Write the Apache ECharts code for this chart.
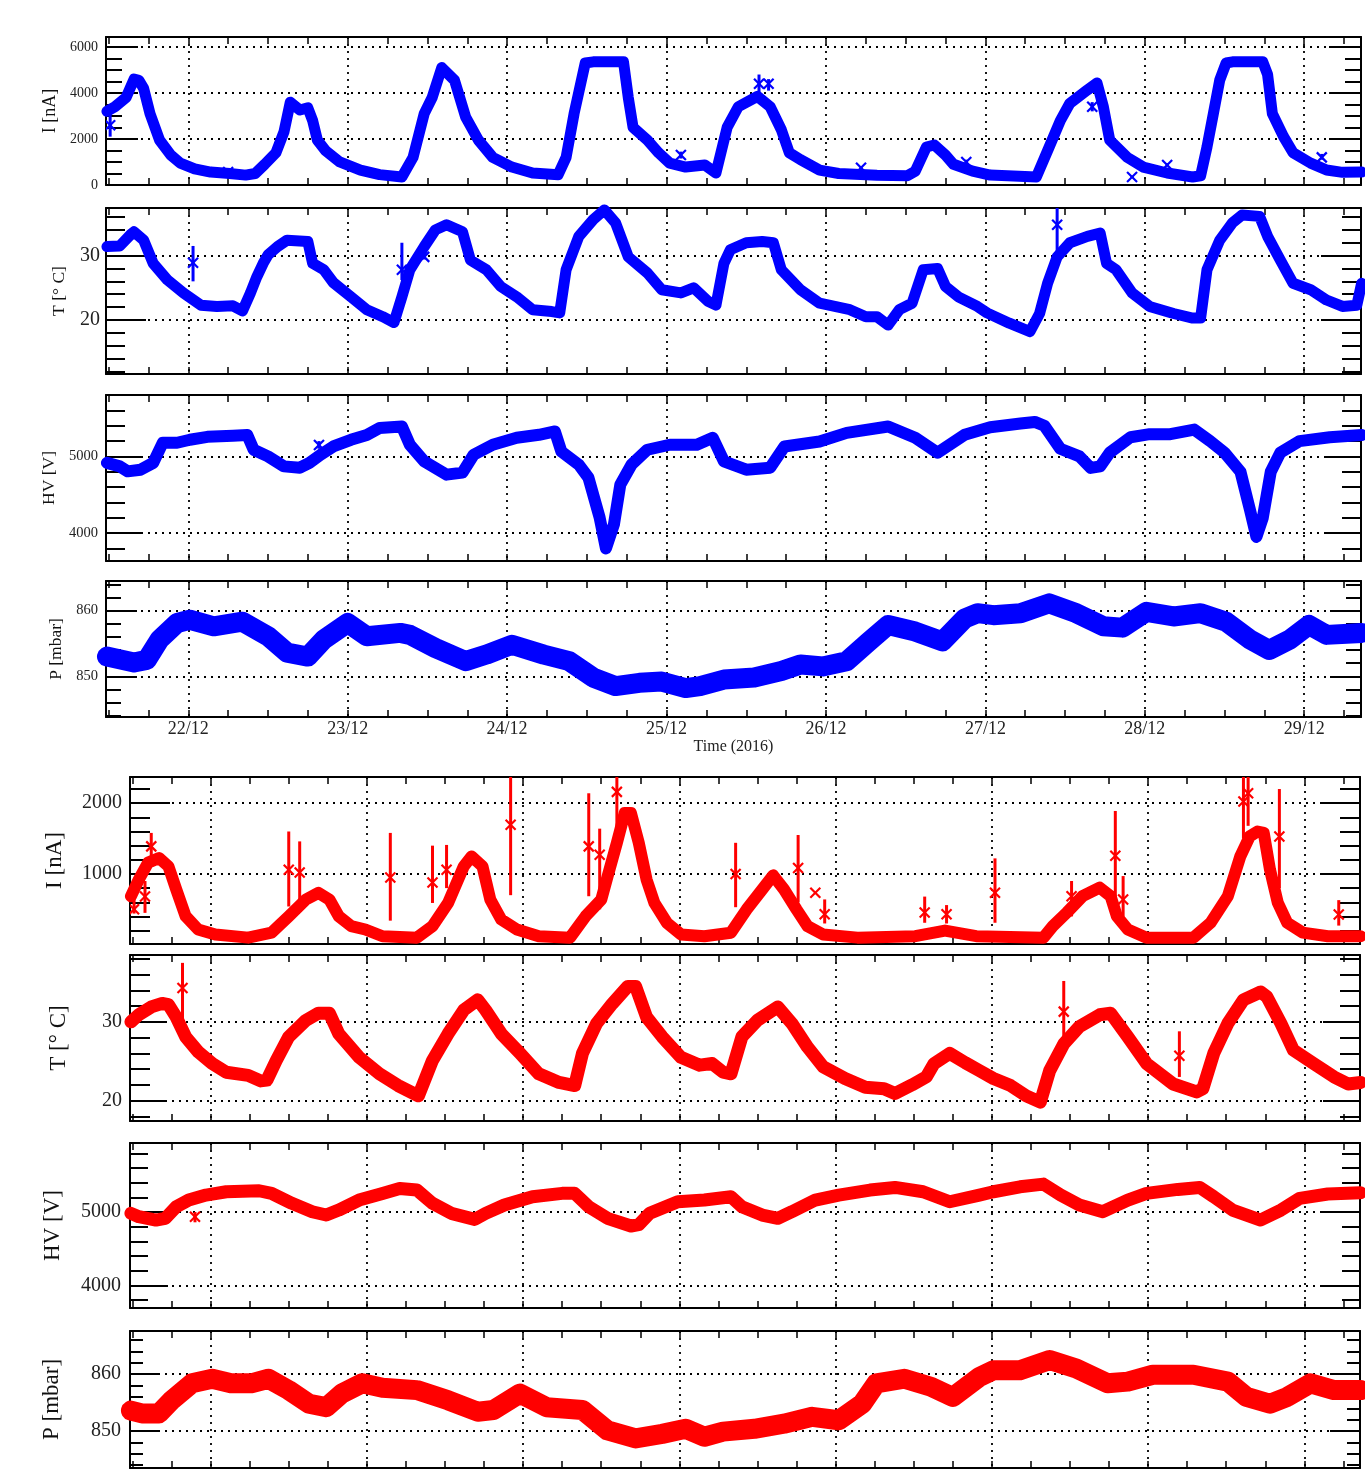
<!DOCTYPE html>
<html><head><meta charset="utf-8">
<script src="https://cdn.jsdelivr.net/npm/echarts@6/dist/echarts.min.js"></script>
<style>html,body{margin:0;padding:0;background:#fff}#c{width:1365px;height:1471px}</style>
</head><body><div id="c"></div>
<script>
// ---------- DATA (time in days of December 2016) ----------
const dayTicks = [22, 23, 24, 25, 26, 27, 28, 29];
const timeMin = 21.484, timeMax = 29.356;

const blueCurrent = [[21.49,3200],[21.54,3400],[21.61,3800],[21.66,4600],[21.69,4550],[21.72,4200],[21.76,3100],[21.82,1950],[21.89,1300],[21.95,950],[22.04,700],[22.14,560],[22.26,500],[22.36,430],[22.42,500],[22.48,900],[22.55,1400],[22.60,2300],[22.64,3600],[22.70,3260],[22.75,3350],[22.78,2800],[22.81,1950],[22.86,1500],[22.95,1000],[23.08,650],[23.20,450],[23.34,350],[23.41,1200],[23.48,3100],[23.53,3800],[23.59,5100],[23.67,4550],[23.74,2950],[23.82,1950],[23.91,1200],[24.03,780],[24.16,520],[24.32,450],[24.37,1200],[24.42,3100],[24.49,5300],[24.54,5350],[24.73,5350],[24.76,3800],[24.79,2500],[24.88,1950],[24.95,1400],[25.02,950],[25.12,780],[25.24,870],[25.31,520],[25.38,2500],[25.45,3400],[25.57,3850],[25.65,3400],[25.72,2400],[25.77,1400],[25.84,1100],[25.96,650],[26.08,500],[26.32,420],[26.51,400],[26.56,600],[26.63,1650],[26.68,1740],[26.75,1300],[26.80,900],[26.92,600],[27.03,430],[27.32,350],[27.40,1650],[27.47,2800],[27.53,3550],[27.64,4130],[27.70,4430],[27.74,3400],[27.78,1950],[27.89,1200],[27.99,780],[28.14,520],[28.30,350],[28.35,400],[28.39,1650],[28.43,3100],[28.47,4560],[28.51,5300],[28.55,5350],[28.74,5350],[28.77,4800],[28.80,3100],[28.87,2100],[28.93,1400],[29.04,950],[29.14,650],[29.24,550],[29.36,560]];
const blueCurrentOutliers = [[21.51,2600,2100,3100],[22.25,560,500,620],[25.09,1300,1150,1450],[25.58,4400,4000,4800],[25.64,4400,4100,4600],[26.22,750,700,800],[26.88,1000,900,1100],[27.67,3400,3200,3600],[27.92,350,300,400],[28.14,870,800,950],[29.11,1200,1100,1350]];

const blueTemp = [[21.49,31.4],[21.57,31.5],[21.64,33.3],[21.66,33.7],[21.72,32.4],[21.78,28.8],[21.87,26.2],[21.97,24.2],[22.08,22.3],[22.18,22.1],[22.28,22.2],[22.34,21.4],[22.39,24.2],[22.43,26.7],[22.47,28.8],[22.50,30.1],[22.56,31.4],[22.62,32.4],[22.75,32.2],[22.78,28.8],[22.85,27.8],[22.91,25.8],[23.02,23.6],[23.12,21.6],[23.22,20.5],[23.29,19.6],[23.34,23.6],[23.39,27.8],[23.48,31.4],[23.55,34.0],[23.62,34.8],[23.72,33.7],[23.77,29.3],[23.87,27.8],[23.96,25.2],[24.06,23.6],[24.16,21.6],[24.28,21.3],[24.33,21.1],[24.37,27.8],[24.45,33.0],[24.54,35.6],[24.61,37.1],[24.68,35.1],[24.76,29.8],[24.88,27.3],[24.97,24.7],[25.09,24.2],[25.17,25.0],[25.26,22.9],[25.31,22.3],[25.36,28.8],[25.40,30.9],[25.50,32.0],[25.60,32.2],[25.67,32.0],[25.72,27.8],[25.84,24.7],[25.96,22.6],[26.15,21.6],[26.25,20.5],[26.32,20.5],[26.39,19.2],[26.46,21.6],[26.54,22.6],[26.61,27.8],[26.70,28.0],[26.75,25.2],[26.83,23.6],[26.95,22.1],[27.01,21.1],[27.15,19.5],[27.28,18.2],[27.34,21.0],[27.39,25.7],[27.45,29.8],[27.53,32.0],[27.64,33.0],[27.72,33.5],[27.76,28.8],[27.82,27.8],[27.92,24.2],[28.03,22.1],[28.18,21.0],[28.30,20.3],[28.35,20.3],[28.39,27.8],[28.47,32.4],[28.55,35.1],[28.61,36.3],[28.72,36.1],[28.77,33.0],[28.85,29.3],[28.93,25.7],[29.04,24.7],[29.14,23.1],[29.24,22.1],[29.33,22.3],[29.36,25.7]];
const blueTempOutliers = [[22.03,28.9,26.0,31.5],[23.34,27.8,26.2,32.0],[23.48,29.8,29.4,30.2],[27.45,34.8,30.0,37.4]];

const blueHV = [[21.49,4916],[21.57,4870],[21.62,4805],[21.70,4827],[21.78,4916],[21.84,5178],[21.93,5178],[22.01,5217],[22.12,5255],[22.28,5270],[22.37,5280],[22.41,5087],[22.50,5000],[22.60,4870],[22.70,4853],[22.76,4916],[22.83,5022],[22.91,5130],[23.02,5217],[23.12,5280],[23.20,5372],[23.34,5390],[23.39,5152],[23.48,4935],[23.62,4762],[23.72,4788],[23.79,5022],[23.91,5152],[24.06,5243],[24.20,5282],[24.30,5325],[24.34,5065],[24.45,4892],[24.51,4723],[24.58,4205],[24.62,3800],[24.67,4113],[24.71,4632],[24.78,4892],[24.88,5087],[25.02,5152],[25.19,5152],[25.29,5243],[25.36,4935],[25.50,4827],[25.65,4853],[25.74,5130],[25.96,5195],[26.13,5307],[26.39,5390],[26.56,5243],[26.70,5048],[26.87,5282],[27.03,5380],[27.22,5430],[27.31,5450],[27.37,5400],[27.47,5100],[27.59,5000],[27.66,4850],[27.72,4870],[27.78,5050],[27.91,5250],[28.03,5290],[28.16,5290],[28.31,5350],[28.41,5200],[28.50,5050],[28.60,4800],[28.66,4300],[28.70,3950],[28.74,4200],[28.79,4800],[28.85,5050],[28.97,5200],[29.16,5250],[29.36,5280]];
const blueHVOutliers = [[22.82,5150,5100,5200]];

const bluePressure = [[21.49,853.0],[21.66,852.1],[21.74,852.5],[21.82,855.6],[21.93,858.1],[22.01,858.6],[22.16,857.6],[22.34,858.3],[22.50,856.1],[22.62,853.6],[22.75,853.0],[22.85,855.6],[23.00,858.1],[23.12,856.1],[23.33,856.6],[23.39,856.3],[23.55,854.3],[23.74,852.3],[23.87,853.3],[24.03,854.8],[24.23,853.3],[24.39,852.3],[24.54,849.8],[24.68,848.5],[24.83,849.0],[24.97,849.2],[25.12,848.2],[25.21,848.5],[25.36,849.5],[25.55,849.8],[25.72,850.8],[25.84,851.8],[25.98,851.5],[26.13,852.3],[26.27,855.3],[26.39,857.8],[26.56,856.8],[26.73,855.3],[26.87,858.8],[26.95,859.6],[27.05,859.3],[27.22,859.6],[27.40,861.1],[27.57,859.6],[27.74,857.6],[27.86,857.4],[28.01,859.8],[28.18,859.1],[28.35,859.6],[28.51,858.3],[28.66,855.6],[28.78,854.0],[28.91,855.6],[29.03,857.8],[29.14,856.3],[29.36,856.6]];

const redCurrent = [[21.49,685],[21.54,920],[21.60,1160],[21.67,1225],[21.73,1107],[21.78,780],[21.84,403],[21.92,215],[22.03,145],[22.24,100],[22.39,170],[22.50,400],[22.61,638],[22.69,732],[22.76,638],[22.82,403],[22.90,262],[22.99,215],[23.10,120],[23.32,100],[23.42,262],[23.52,592],[23.62,1107],[23.67,1248],[23.74,1107],[23.79,638],[23.86,356],[23.96,215],[24.10,120],[24.30,100],[24.40,403],[24.50,638],[24.54,960],[24.60,1440],[24.65,1860],[24.69,1860],[24.74,1440],[24.79,920],[24.84,592],[24.92,310],[25.01,145],[25.16,120],[25.33,170],[25.43,497],[25.53,780],[25.60,980],[25.67,780],[25.75,497],[25.82,262],[25.92,145],[26.14,100],[26.51,120],[26.70,200],[26.90,120],[27.33,100],[27.39,262],[27.48,455],[27.58,685],[27.69,807],[27.76,685],[27.80,403],[27.87,215],[27.99,100],[28.29,100],[28.40,310],[28.51,685],[28.59,1248],[28.65,1530],[28.70,1600],[28.74,1580],[28.78,1060],[28.83,592],[28.89,310],[28.99,170],[29.15,120],[29.36,120]];
const redCurrentOutliers = [[21.51,500,440,700],[21.58,680,450,900],[21.62,1390,1130,1580],[22.50,1060,540,1600],[22.57,1020,640,1460],[23.15,950,340,1580],[23.42,880,590,1400],[23.51,1060,800,1410],[23.92,1695,700,2380],[24.42,1390,685,2140],[24.49,1270,500,1640],[24.60,2160,1640,2380],[25.36,1000,530,1440],[25.76,1085,600,1550],[25.87,735,735,735],[25.93,430,300,640],[26.57,455,310,680],[26.71,430,300,560],[27.02,735,310,1220],[27.51,685,400,900],[27.79,1257,620,1890],[27.84,640,400,970],[28.61,2023,1500,2380],[28.64,2140,1680,2380],[28.84,1530,800,2200],[29.22,427,270,630]];

const redTemp = [[21.49,30.0],[21.54,30.9],[21.62,31.9],[21.69,32.35],[21.73,32.2],[21.78,30.6],[21.84,28.1],[21.92,26.2],[22.01,24.7],[22.10,23.6],[22.24,23.2],[22.32,22.5],[22.36,22.6],[22.42,25.1],[22.50,28.1],[22.61,30.2],[22.69,31.1],[22.76,31.1],[22.82,28.5],[22.95,25.5],[23.08,23.4],[23.20,21.9],[23.33,20.6],[23.42,25.1],[23.52,28.5],[23.62,31.5],[23.71,32.8],[23.76,31.5],[23.86,28.5],[23.98,26.0],[24.10,23.4],[24.23,22.3],[24.33,21.9],[24.38,26.0],[24.47,29.8],[24.57,32.3],[24.67,34.5],[24.72,34.5],[24.79,30.6],[24.89,28.1],[25.01,25.5],[25.13,24.5],[25.21,24.7],[25.28,23.6],[25.33,23.4],[25.40,28.1],[25.50,30.2],[25.63,31.9],[25.72,29.8],[25.82,26.8],[25.92,24.3],[26.06,22.8],[26.19,21.7],[26.31,21.5],[26.38,20.9],[26.49,22.0],[26.58,23.0],[26.63,24.7],[26.73,26.0],[26.83,24.8],[26.92,23.8],[27.01,22.8],[27.12,21.9],[27.22,20.6],[27.31,19.8],[27.37,23.8],[27.46,27.2],[27.56,29.4],[27.69,30.9],[27.76,31.1],[27.87,28.1],[27.99,24.7],[28.16,22.1],[28.31,21.1],[28.35,21.5],[28.42,26.0],[28.51,29.8],[28.61,32.8],[28.72,33.8],[28.76,33.2],[28.85,29.8],[28.93,26.4],[29.06,24.7],[29.19,23.0],[29.28,22.1],[29.36,22.3]];
const redTempOutliers = [[21.82,34.3,30.0,37.5],[27.46,31.3,27.0,35.2],[28.20,25.7,23.0,28.8]];

const redHV = [[21.49,4982],[21.54,4936],[21.65,4890],[21.71,4913],[21.78,5072],[21.86,5163],[21.97,5231],[22.10,5276],[22.31,5290],[22.39,5253],[22.52,5118],[22.65,5004],[22.74,4959],[22.82,5027],[22.95,5163],[23.10,5253],[23.21,5321],[23.32,5299],[23.42,5118],[23.54,4982],[23.69,4900],[23.76,4982],[23.88,5095],[24.06,5208],[24.25,5254],[24.33,5254],[24.42,5072],[24.54,4914],[24.69,4810],[24.74,4828],[24.81,4982],[24.99,5140],[25.16,5163],[25.33,5208],[25.40,5072],[25.53,4959],[25.63,4914],[25.72,5004],[25.87,5163],[26.02,5231],[26.22,5299],[26.38,5335],[26.56,5276],[26.73,5140],[26.92,5230],[27.01,5276],[27.18,5344],[27.33,5380],[27.44,5231],[27.56,5095],[27.71,5004],[27.87,5163],[27.99,5254],[28.19,5308],[28.33,5335],[28.42,5208],[28.54,5027],[28.72,4891],[28.85,5027],[28.97,5186],[29.15,5245],[29.36,5262]];
const redHVOutliers = [[21.90,4936,4860,5000]];

const redPressure = [[21.49,853.6],[21.56,853.1],[21.67,853.1],[21.75,855.4],[21.88,858.4],[22.01,859.2],[22.13,858.4],[22.26,858.4],[22.37,859.2],[22.50,857.2],[22.63,854.8],[22.74,854.2],[22.84,856.6],[22.97,858.4],[23.10,857.6],[23.32,857.2],[23.52,855.4],[23.71,853.4],[23.81,853.7],[23.98,856.6],[24.15,854.2],[24.38,853.7],[24.54,850.1],[24.72,848.7],[24.89,849.5],[25.04,850.4],[25.16,849.0],[25.28,849.9],[25.48,850.4],[25.67,851.3],[25.85,852.5],[26.02,851.9],[26.17,854.8],[26.26,858.4],[26.44,859.2],[26.61,857.8],[26.75,856.0],[26.92,859.5],[27.01,860.7],[27.18,860.7],[27.37,862.5],[27.54,861.0],[27.74,858.4],[27.87,858.7],[28.03,859.9],[28.29,859.9],[28.51,858.7],[28.63,856.0],[28.78,854.8],[28.89,856.0],[29.04,858.4],[29.19,857.2],[29.36,857.2]];

const currentTicksBlue = [0, 2000, 4000, 6000];
const currentTicksRed = [1000, 2000];
const tempTicks = [20, 30];
const hvTicks = [4000, 5000];
const pressureTicks = [850, 860];

// ---------- LAYOUT / STYLE ----------
const FONT = '"Liberation Serif", "Times New Roman", "DejaVu Serif", serif';
const BLUE = '#0000ff', RED = '#ff0000';
const panels = [
  {name:'I [nA]', color:BLUE, g:[106,37,1255,148], min:0, max:6430, major:currentTicksBlue, step:500, maj:32, mn:16, fs:14, mg:8, nfs:18, ng:38, lw:11, data:blueCurrent, out:blueCurrentOutliers},
  {name:'T [° C]', color:BLUE, g:[106,208,1255,166], min:11.6, max:37.4, major:tempTicks, step:2, maj:40, mn:19, fs:20, mg:6, nfs:17.5, ng:38, lw:11, data:blueTemp, out:blueTempOutliers},
  {name:'HV [V]', color:BLUE, g:[106,395,1255,166], min:3636, max:5801, major:hvTicks, step:200, maj:37, mn:19, fs:14.5, mg:8, nfs:17.5, ng:41, lw:12, data:blueHV, out:blueHVOutliers},
  {name:'P [mbar]', color:BLUE, g:[106,581,1255,136], min:843.8, max:864.5, major:pressureTicks, step:2, maj:31, mn:15, fs:14.5, mg:8, nfs:17.5, ng:38, lw:20, data:bluePressure, out:[]},
  {name:'I [nA]', color:RED, g:[130,777,1230,167], min:10, max:2370, major:currentTicksRed, step:200, maj:40, mn:20, fs:20, mg:8, nfs:23, ng:64, lw:12, data:redCurrent, out:redCurrentOutliers},
  {name:'T [° C]', color:RED, g:[130,955,1230,166], min:17.4, max:38.5, major:tempTicks, step:2, maj:37, mn:20, fs:20, mg:8, nfs:23, ng:60, lw:13, data:redTemp, out:redTempOutliers},
  {name:'HV [V]', color:RED, g:[130,1143,1230,165], min:3693, max:5940, major:hvTicks, step:200, maj:38, mn:18, fs:20, mg:9, nfs:23, ng:66, lw:13, data:redHV, out:redHVOutliers},
  {name:'P [mbar]', color:RED, g:[130,1331,1230,137], min:843.5, max:867.6, major:pressureTicks, step:2, maj:30, mn:13, fs:20, mg:9, nfs:23, ng:67, lw:20, data:redPressure, out:[]}
];

function stepsIn(min, max, step) {
  const a = [];
  for (let v = Math.ceil(min / step - 1e-9) * step; v <= max + 1e-9; v += step) a.push(+v.toFixed(6));
  return a;
}
const quarterTicks = stepsIn(timeMin, timeMax, 0.25);

const AX = {color:'#000', width:2};
const DOT = {color:'#000', type:[2, 5], width:1.8};
const grid = [], xAxis = [], yAxis = [], series = [];

panels.forEach((p, i) => {
  grid.push({left:p.g[0], top:p.g[1], width:p.g[2], height:p.g[3], containLabel:false, outerBoundsMode:'none'});
  const minor = stepsIn(p.min, p.max, p.step);
  const xBase = {type:'value', gridIndex:i, min:timeMin, max:timeMax, splitLine:{show:false}, axisLabel:{show:false}};
  xAxis.push(Object.assign({}, xBase, {
    position:'bottom',
    axisLine:{show:true, onZero:false, lineStyle:AX},
    axisTick:{show:true, inside:true, length:7, customValues:dayTicks, lineStyle:{color:'#000', width:1.5}},
    splitLine:{show:true, lineStyle:DOT},
    axisLabel:{show:i === 3, customValues:dayTicks, formatter:v => Math.round(v) + '/12', fontFamily:FONT, fontSize:18, color:'#222', margin:3},
    name:i === 3 ? 'Time (2016)' : '', nameLocation:'middle', nameGap:19,
    nameTextStyle:{fontFamily:FONT, fontSize:16, color:'#222'}
  }));
  xAxis.push(Object.assign({}, xBase, {position:'bottom', axisLine:{show:false, onZero:false},
    axisTick:{show:true, inside:true, length:7, customValues:quarterTicks, lineStyle:{color:'#000', width:1.5}}}));
  xAxis.push(Object.assign({}, xBase, {position:'top', axisLine:{show:true, onZero:false, lineStyle:AX},
    axisTick:{show:true, inside:true, length:7, customValues:quarterTicks, lineStyle:{color:'#000', width:1.5}}}));

  const yBase = {type:'value', gridIndex:i, min:p.min, max:p.max, splitLine:{show:false}, axisLabel:{show:false}};
  yAxis.push(Object.assign({}, yBase, {
    position:'left',
    axisLine:{show:true, onZero:false, lineStyle:AX},
    axisTick:{show:true, inside:true, length:p.maj, customValues:p.major, lineStyle:{color:'#000', width:2}},
    splitLine:{show:true, lineStyle:DOT},
    axisLabel:{show:true, customValues:p.major, formatter:v => String(Math.round(v)), fontFamily:FONT, fontSize:p.fs, color:'#222', margin:p.mg},
    name:p.name, nameLocation:'middle', nameGap:p.ng, nameRotate:90,
    nameTextStyle:{fontFamily:FONT, fontSize:p.nfs, color:'#111'}
  }));
  yAxis.push(Object.assign({}, yBase, {position:'left', axisLine:{show:false, onZero:false},
    axisTick:{show:true, inside:true, length:p.mn, customValues:minor, lineStyle:{color:'#000', width:2}}}));
  yAxis.push(Object.assign({}, yBase, {position:'right', axisLine:{show:true, onZero:false, lineStyle:AX},
    axisTick:{show:true, inside:true, length:p.maj, customValues:p.major, lineStyle:{color:'#000', width:2}}}));
  yAxis.push(Object.assign({}, yBase, {position:'right', axisLine:{show:false, onZero:false},
    axisTick:{show:true, inside:true, length:p.mn, customValues:minor, lineStyle:{color:'#000', width:2}}}));

  series.push({
    type:'line', xAxisIndex:3 * i, yAxisIndex:4 * i, data:p.data,
    showSymbol:false, symbol:'none', clip:true, z:3,
    lineStyle:{color:p.color, width:p.lw, join:'round', cap:'round'}
  });
  if (p.out.length) {
    const col = p.color;
    series.push({
      type:'custom', xAxisIndex:3 * i, yAxisIndex:4 * i, data:p.out, clip:true, z:4,
      encode:{x:0, y:1},
      renderItem(params, api) {
        const t = api.value(0);
        const c = api.coord([t, api.value(1)]);
        const lo = api.coord([t, api.value(2)]);
        const hi = api.coord([t, api.value(3)]);
        const s = 5;
        const st = {stroke:col, lineWidth:2.2};
        return {type:'group', children:[
          {type:'line', shape:{x1:c[0], y1:lo[1], x2:c[0], y2:hi[1]}, style:{stroke:col, lineWidth:3}},
          {type:'line', shape:{x1:c[0] - s, y1:c[1] - s, x2:c[0] + s, y2:c[1] + s}, style:st},
          {type:'line', shape:{x1:c[0] - s, y1:c[1] + s, x2:c[0] + s, y2:c[1] - s}, style:st}
        ]};
      }
    });
  }
});

const chart = echarts.init(document.getElementById('c'), null, {renderer:'canvas'});
chart.setOption({animation:false, backgroundColor:'#fff', grid, xAxis, yAxis, series});
</script>
</body></html>
